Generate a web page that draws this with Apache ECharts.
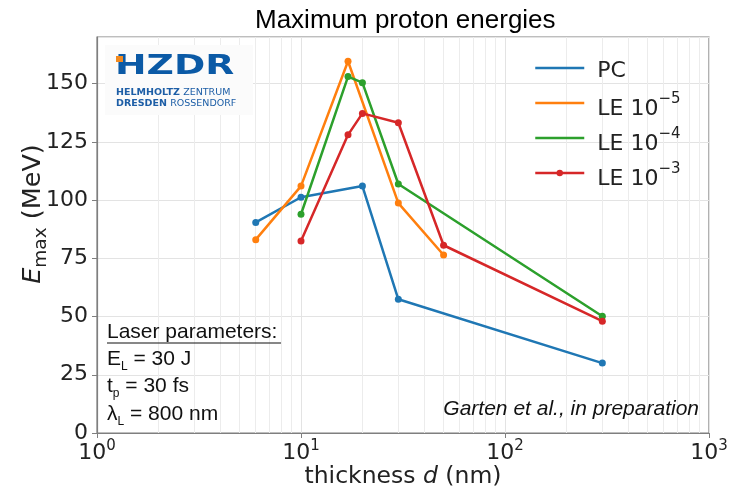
<!DOCTYPE html>
<html>
<head>
<meta charset="utf-8">
<title>Maximum proton energies</title>
<script src="https://cdn.jsdelivr.net/npm/echarts@6/dist/echarts.min.js"></script>
<style>
html, body { margin: 0; padding: 0; background: #fff; }
#main { width: 731px; height: 488px; }
</style>
</head>
<body>
<div id="main"></div>
<script>
// thickness d (nm) / maximum proton energy (MeV)
var pcX = [6, 10, 20, 30, 300];
var pcY = [90.4, 101.2, 106, 57.4, 30];
var le5X = [6, 10, 17, 30, 50];
var le5Y = [83, 106, 159.6, 98.7, 76.4];
var le4X = [10, 17, 20, 30, 300];
var le4Y = [93.9, 153, 150.4, 106.9, 50.1];
var le3X = [10, 17, 20, 30, 50, 300];
var le3Y = [82.4, 128, 137.2, 133.2, 80.6, 48];

var seriesNames = ['PC', 'LE 1e-5', 'LE 1e-4', 'LE 1e-3'];
var legendSup = ['', '\u22125', '\u22124', '\u22123'];
var colors = ['#1f77b4', '#ff7f0e', '#2ca02c', '#d62728'];

// minor grid positions of the log axis
var xMinor = [2, 3, 4, 5, 6, 7, 8, 9, 20, 30, 40, 50, 60, 70, 80, 90,
	200, 300, 400, 500, 600, 700, 800, 900];

var frameColor = '#7f7f7f';
var gridColor = '#e3e3e3';

function pairs(xs, ys) {
	return xs.map(function (x, i) { return [x, ys[i]]; });
}

function lineSeries(name, xs, ys, color) {
	return {
		name: name,
		type: 'line',
		data: pairs(xs, ys),
		symbol: 'circle',
		symbolSize: 7,
		showSymbol: true,
		lineStyle: { width: 2.5, color: color },
		itemStyle: { color: color },
		z: 3
	};
}

var myChart = echarts.init(document.getElementById('main'));

var option = {
	backgroundColor: '#fff',
	animation: false,
	title: {
		text: 'Maximum proton energies',
		left: 250,
		top: 3,
		textStyle: {
			fontFamily: 'Liberation Sans',
			fontSize: 26,
			fontWeight: 'normal',
			color: '#000'
		}
	},
	grid: {
		left: 97,
		right: 22,
		top: 37,
		bottom: 55,
		containLabel: false,
		outerBoundsMode: 'none',
		show: true,
		borderColor: frameColor,
		borderWidth: 1.2,
		backgroundColor: 'transparent'
	},
	legend: {
		orient: 'vertical',
		left: 529,
		top: 52,
		itemWidth: 49,
		itemHeight: 8,
		itemGap: 7,
		data: [
			{ name: seriesNames[0], itemStyle: { opacity: 0 } },
			{ name: seriesNames[1], itemStyle: { opacity: 0 } },
			{ name: seriesNames[2], itemStyle: { opacity: 0 } },
			{ name: seriesNames[3] }
		],
		lineStyle: { width: 2.5 },
		formatter: function (name) {
			var i = seriesNames.indexOf(name);
			if (!legendSup[i]) return '{g|}{p|PC}';
			return '{g|}{b|LE 10}{s|' + legendSup[i] + '}';
		},
		textStyle: {
			rich: {
				g: { width: 8, height: 10 },
				p: { fontFamily: 'DejaVu Sans', fontSize: 22, lineHeight: 22, color: '#222', padding: [3, 0, 3, 0], verticalAlign: 'top' },
				b: { fontFamily: 'DejaVu Sans', fontSize: 22, lineHeight: 22, color: '#222', padding: [6, 0, 0, 0], verticalAlign: 'top' },
				s: { fontFamily: 'DejaVu Sans', fontSize: 15, lineHeight: 15, color: '#222', verticalAlign: 'top' }
			}
		}
	},
	xAxis: {
		type: 'log',
		logBase: 10,
		min: 1,
		max: 1000,
		name: '{n|thickness }{i|d}{n| (nm)}',
		nameLocation: 'middle',
		nameGap: 32,
		nameMoveOverlap: false,
		nameTextStyle: {
			rich: {
				n: { fontFamily: 'DejaVu Sans', fontSize: 23.5, color: '#222' },
				i: { fontFamily: 'DejaVu Sans', fontSize: 23.5, fontStyle: 'italic', color: '#222' }
			}
		},
		axisLine: { show: true, lineStyle: { color: frameColor, width: 1.2 } },
		axisTick: { show: true, length: 5, lineStyle: { color: frameColor } },
		axisLabel: {
			margin: 6,
			formatter: function (v) {
				return '{b|10}{s|' + Math.round(Math.log10(v)) + '}';
			},
			rich: {
				b: { fontFamily: 'DejaVu Sans', fontSize: 22, lineHeight: 22, color: '#222', padding: [3, 0, 0, 0], verticalAlign: 'top' },
				s: { fontFamily: 'DejaVu Sans', fontSize: 15, lineHeight: 15, color: '#222', verticalAlign: 'top' }
			}
		},
		splitLine: { show: true, lineStyle: { color: gridColor, width: 1 } }
	},
	yAxis: {
		type: 'value',
		min: 0,
		max: 170,
		interval: 25,
		name: '{i|E}{sub|max}{n| (MeV)}',
		nameLocation: 'middle',
		nameRotate: 90,
		nameGap: 52,
		nameMoveOverlap: false,
		nameTextStyle: {
			padding: [0, 0, 0, 42],
			rich: {
				i: { fontFamily: 'DejaVu Sans', fontSize: 25.5, lineHeight: 25, fontStyle: 'italic', color: '#222', verticalAlign: 'top' },
				n: { fontFamily: 'DejaVu Sans', fontSize: 25.5, lineHeight: 25, color: '#222', verticalAlign: 'top' },
				sub: { fontFamily: 'DejaVu Sans', fontSize: 18.5, lineHeight: 18, color: '#222', padding: [12, 0, 0, 0], verticalAlign: 'top' }
			}
		},
		axisLine: { show: true, lineStyle: { color: frameColor, width: 1.2 } },
		axisTick: { show: true, length: 5, lineStyle: { color: frameColor } },
		axisLabel: {
			showMaxLabel: false,
			margin: 9,
			fontFamily: 'DejaVu Sans',
			fontSize: 22,
			color: '#222'
		},
		splitLine: { show: true, lineStyle: { color: gridColor, width: 1 } }
	},
	series: [
		{
			name: 'minor grid',
			type: 'line',
			data: [],
			silent: true,
			z: 1,
			markLine: {
				z: 1,
				silent: true,
				animation: false,
				symbol: ['none', 'none'],
				label: { show: false },
				lineStyle: { color: '#ececec', width: 1, type: 'solid' },
				data: xMinor.map(function (v) { return { xAxis: v }; })
			}
		},
		lineSeries(seriesNames[0], pcX, pcY, colors[0]),
		lineSeries(seriesNames[1], le5X, le5Y, colors[1]),
		lineSeries(seriesNames[2], le4X, le4Y, colors[2]),
		lineSeries(seriesNames[3], le3X, le3Y, colors[3])
	],
	graphic: [
		// HZDR logo
		{ type: 'rect', z: 100, shape: { x: 105, y: 45, width: 148, height: 70 }, style: { fill: '#fbfbfb' } },
		{ type: 'text', z: 101, x: 115, y: 54, scaleX: 1.45,
			style: { text: 'HZDR', font: 'bold 26px DejaVu Sans', fill: '#0b5aa6', verticalAlign: 'top' } },
		{ type: 'rect', z: 102, shape: { x: 116, y: 56, width: 7, height: 6 }, style: { fill: '#f28a1f' } },
		{ type: 'text', z: 101, x: 116, y: 87,
			style: { text: '{b|HELMHOLTZ} {r|ZENTRUM}', verticalAlign: 'top',
				rich: { b: { font: 'bold 9.5px DejaVu Sans', fill: '#1d5ea6' }, r: { font: '9.5px DejaVu Sans', fill: '#1d5ea6' } } } },
		{ type: 'text', z: 101, x: 116, y: 98,
			style: { text: '{b|DRESDEN} {r|ROSSENDORF}', verticalAlign: 'top',
				rich: { b: { font: 'bold 9.5px DejaVu Sans', fill: '#1d5ea6' }, r: { font: '9.5px DejaVu Sans', fill: '#1d5ea6' } } } },
		// laser parameters
		{ type: 'text', z: 100, x: 107, y: 322,
			style: { text: 'Laser parameters:', font: '21px Liberation Sans', fill: '#111', verticalAlign: 'top' } },
		{ type: 'line', z: 100, shape: { x1: 107, y1: 343, x2: 281, y2: 343 }, style: { stroke: '#111', lineWidth: 1.2 } },
		{ type: 'text', z: 100, x: 107, y: 349,
			style: { text: '{n|E}{s|L}{n| = 30 J}', verticalAlign: 'top',
				rich: { n: { font: '21px Liberation Sans', fill: '#111', lineHeight: 21, verticalAlign: 'top' },
					s: { font: '12px Liberation Sans', fill: '#111', lineHeight: 12, padding: [12, 0, 0, 0], verticalAlign: 'top' } } } },
		{ type: 'text', z: 100, x: 107, y: 376,
			style: { text: '{n|t}{s|p}{n| = 30 fs}', verticalAlign: 'top',
				rich: { n: { font: '21px Liberation Sans', fill: '#111', lineHeight: 21, verticalAlign: 'top' },
					s: { font: '12px Liberation Sans', fill: '#111', lineHeight: 12, padding: [12, 0, 0, 0], verticalAlign: 'top' } } } },
		{ type: 'text', z: 100, x: 107, y: 404,
			style: { text: '{n|\u03bb}{s|L}{n| = 800 nm}', verticalAlign: 'top',
				rich: { n: { font: '21px Liberation Sans', fill: '#111', lineHeight: 21, verticalAlign: 'top' },
					s: { font: '12px Liberation Sans', fill: '#111', lineHeight: 12, padding: [12, 0, 0, 0], verticalAlign: 'top' } } } },
		{ type: 'text', z: 100, x: 699, y: 409,
			style: { text: 'Garten et al., in preparation', font: 'italic 21px Liberation Sans', fill: '#111', align: 'right', verticalAlign: 'middle' } }
	]
};

myChart.setOption(option);
</script>
</body>
</html>
